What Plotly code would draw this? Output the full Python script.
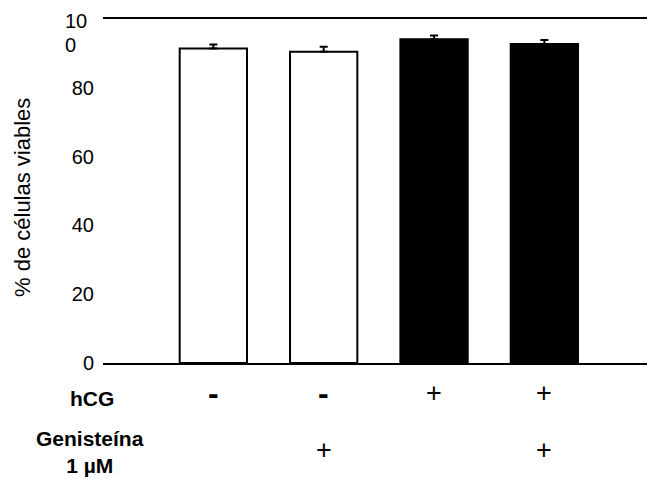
import plotly.graph_objects as go

categories = [1, 2, 3, 4]
values = [91.4, 90.5, 94.1, 92.7]
errors = [1.2, 1.4, 1.1, 1.2]
bar_colors = ["white", "white", "black", "black"]
hcg_labels = ["-", "-", "+", "+"]
gen_labels = ["", "+", "", "+"]
y_ticks = [0, 20, 40, 60, 80]

FONT = "Liberation Sans, Arial, sans-serif"

L, T, B, W, H = 103, 19, 116, 647, 479
pw, ph = W - L, H - T - B


def py(pix):
    return (H - B - pix) / ph


def px(pix):
    return (pix - L) / pw


def sign_ann(xv, ypix, s):
    if s == "-":
        return dict(x=xv, y=py(ypix), xref="x", yref="paper", text="<b>-</b>", showarrow=False,
                    yanchor="middle", font=dict(family=FONT, size=32, color="black"))
    return dict(x=xv, y=py(ypix), xref="x", yref="paper", text=s, showarrow=False,
                yanchor="middle", font=dict(family=FONT, size=27, color="black"))


fig = go.Figure()
fig.add_trace(go.Bar(
    x=categories, y=values, width=0.61,
    marker=dict(color=bar_colors, line=dict(color="black", width=2)),
    error_y=dict(type="data", symmetric=False, array=errors,
                 arrayminus=[0]*len(errors), color="black", thickness=2, width=4),
    showlegend=False,
))

annotations = []
for xv, h, g in zip(categories, hcg_labels, gen_labels):
    if h:
        annotations.append(sign_ann(xv, 393, h))
    if g:
        annotations.append(sign_ann(xv, 450, g))

annotations += [
    dict(x=px(92), y=py(398), xref="paper", yref="paper", text="<b>hCG</b>", showarrow=False,
         xanchor="center", yanchor="middle", font=dict(family=FONT, size=21, color="black")),
    dict(x=px(90), y=py(451.5), xref="paper", yref="paper", text="<b>Genisteína<br>1 µM</b>", showarrow=False,
         xanchor="center", yanchor="middle", font=dict(family=FONT, size=21, color="black")),
    dict(x=px(63), y=py(21), xref="paper", yref="paper", text="10", showarrow=False,
         xanchor="left", yanchor="middle", font=dict(family=FONT, size=20, color="black")),
    dict(x=px(63), y=py(45), xref="paper", yref="paper", text="0", showarrow=False,
         xanchor="left", yanchor="middle", font=dict(family=FONT, size=20, color="black")),
    dict(x=px(22), y=py(198), xref="paper", yref="paper", text="% de células viables", showarrow=False,
         textangle=-90, xanchor="center", yanchor="middle",
         font=dict(family=FONT, size=22, color="black")),
]

fig.update_layout(
    width=W, height=H,
    margin=dict(l=L, r=0, t=T, b=B),
    paper_bgcolor="white", plot_bgcolor="white",
    xaxis=dict(range=[0, 4.93], showgrid=False, zeroline=False, showticklabels=False,
               showline=True, mirror=True, linecolor="black", linewidth=2, ticks=""),
    yaxis=dict(range=[0, 100], showgrid=False, zeroline=False, showline=False,
               tickvals=y_ticks, ticktext=[str(v) for v in y_ticks], ticks="",
               ticklabelstandoff=8,
               tickfont=dict(family=FONT, size=20, color="black")),
    annotations=annotations,
    font=dict(family=FONT, color="black"),
)

fig.write_html("out.html")
